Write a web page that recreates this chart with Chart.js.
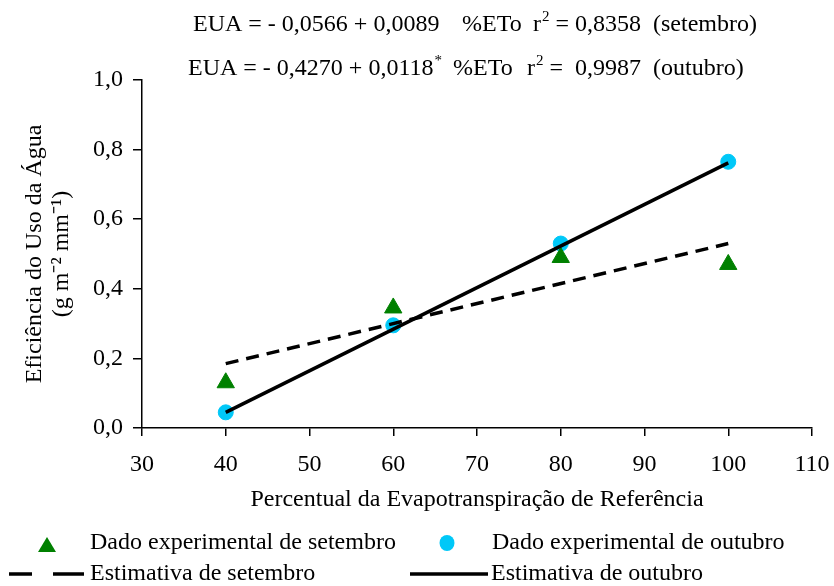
<!DOCTYPE html>
<html>
<head>
<meta charset="utf-8">
<script src="https://cdn.jsdelivr.net/npm/chart.js@4/dist/chart.umd.min.js"></script>
<style>
  body { margin: 0; background: #fff; }
  canvas { display: block; }
</style>
</head>
<body>
<canvas id="grafico" width="834" height="586"></canvas>
<script>
const percentualEto = [40, 60, 80, 100];
const dadoSetembro = [0.13, 0.345, 0.49, 0.47];
const dadoOutubro = [0.045, 0.295, 0.53, 0.765];
const estimativaX = [40, 100];
const estimativaSetembro = [0.185, 0.53];
const estimativaOutubro = [0.045, 0.762];

const fonte = 'Liberation Serif, Times New Roman, serif';
const tamanho = 24;

function pares(xs, ys) {
    return xs.map((x, i) => ({ x: x, y: ys[i] }));
}

// equações no topo; cada pedaço tem um x inicial (ou segue o anterior)
const cabecalho = {
    id: 'cabecalho',
    afterDraw(chart) {
        const ctx = chart.ctx;
        ctx.save();
        ctx.fillStyle = '#000';
        ctx.textBaseline = 'alphabetic';
        const linhas = [
            { y: 31, partes: [['EUA = - 0,0566 + 0,0089', 0, 193], ['%ETo', 0, 462], ['r', 0, 533], ['2', 1], [' = 0,8358  (setembro)', 0]] },
            { y: 75, partes: [['EUA = - 0,4270 + 0,0118', 0, 188], ['*', 1], ['%ETo', 0, 453], ['r', 0, 527], ['2', 1], [' =  0,9987  (outubro)', 0]] }
        ];
        linhas.forEach(l => {
            let x = 0;
            l.partes.forEach(p => {
                if (p[2] !== undefined) x = p[2];
                const sup = p[1];
                ctx.font = (sup ? 15 : tamanho) + 'px ' + fonte;
                ctx.fillText(p[0], x + (sup ? 1 : 0), sup ? l.y - 10 : l.y);
                x += ctx.measureText(p[0]).width + (sup ? 1 : 0);
            });
        });
        ctx.restore();
    }
};

// legenda em duas linhas
const legenda = {
    id: 'legenda',
    afterDraw(chart) {
        const ctx = chart.ctx;
        const ds = chart.data.datasets;
        ctx.save();
        ctx.font = tamanho + 'px ' + fonte;
        ctx.textBaseline = 'middle';

        // triângulo
        ctx.fillStyle = ds[0].backgroundColor;
        ctx.beginPath();
        ctx.moveTo(47, 537);
        ctx.lineTo(56, 552);
        ctx.lineTo(38, 552);
        ctx.closePath();
        ctx.fill();
        ctx.fillStyle = '#000';
        ctx.fillText(ds[0].label, 90, 543);

        // círculo
        ctx.fillStyle = ds[1].backgroundColor;
        ctx.beginPath();
        ctx.ellipse(447, 543, 7.5, 8, 0, 0, Math.PI * 2);
        ctx.fill();
        ctx.fillStyle = '#000';
        ctx.fillText(ds[1].label, 492, 543);

        // linhas
        ctx.strokeStyle = '#000';
        ctx.lineWidth = 3.5;
        ctx.beginPath();
        ctx.moveTo(9, 574);
        ctx.lineTo(32, 574);
        ctx.moveTo(53, 574);
        ctx.lineTo(84, 574);
        ctx.stroke();
        ctx.fillText(ds[2].label, 90, 574);

        ctx.beginPath();
        ctx.moveTo(410, 574);
        ctx.lineTo(488, 574);
        ctx.stroke();
        ctx.fillText(ds[3].label, 491, 574);
        ctx.restore();
    }
};

new Chart(document.getElementById('grafico'), {
    type: 'scatter',
    data: {
        datasets: [{
            label: 'Dado experimental de setembro',
            data: pares(percentualEto, dadoSetembro),
            backgroundColor: '#008000',
            borderColor: '#008000',
            pointStyle: 'triangle',
            pointRadius: 10,
            order: 2
        }, {
            label: 'Dado experimental de outubro',
            data: pares(percentualEto, dadoOutubro),
            backgroundColor: '#00C8F8',
            borderColor: '#00C8F8',
            pointStyle: 'circle',
            pointRadius: 7.5,
            order: 2
        }, {
            label: 'Estimativa de setembro',
            type: 'line',
            data: pares(estimativaX, estimativaSetembro),
            borderColor: '#000',
            borderWidth: 3.5,
            borderDash: [13, 8],
            pointRadius: 0,
            fill: false,
            order: 1
        }, {
            label: 'Estimativa de outubro',
            type: 'line',
            data: pares(estimativaX, estimativaOutubro),
            borderColor: '#000',
            borderWidth: 3.5,
            pointRadius: 0,
            fill: false,
            order: 0
        }]
    },
    options: {
        responsive: false,
        animation: false,
        layout: { padding: { top: 80, right: 22, bottom: 73, left: 0 } },
        plugins: {
            legend: { display: false },
            tooltip: { enabled: false }
        },
        scales: {
            x: {
                type: 'linear',
                min: 30,
                max: 110,
                border: { color: '#000', width: 1.5 },
                grid: { drawOnChartArea: false, color: '#000', lineWidth: 1.5, tickLength: 8 },
                ticks: { stepSize: 10, color: '#000', padding: 14, font: { family: fonte, size: tamanho } },
                title: {
                    display: true,
                    text: 'Percentual da Evapotranspiração de Referência',
                    color: '#000',
                    padding: { top: 0, bottom: 0 },
                    font: { family: fonte, size: tamanho, lineHeight: 1.1 }
                },
                afterFit(escala) {
                    escala.height = 85;
                    escala.paddingRight = 0;
                    escala.paddingLeft = 0;
                }
            },
            y: {
                min: 0,
                max: 1,
                border: { color: '#000', width: 1.5 },
                grid: { drawOnChartArea: false, color: '#000', lineWidth: 1.5, tickLength: 9 },
                ticks: {
                    stepSize: 0.2,
                    color: '#000',
                    padding: 10,
                    font: { family: fonte, size: tamanho },
                    callback: v => v.toFixed(1).replace('.', ',')
                },
                title: {
                    display: true,
                    text: ['Eficiência do Uso da Água', '(g m⁻² mm⁻¹)'],
                    color: '#000',
                    padding: { top: 22, bottom: 0 },
                    font: { family: fonte, size: tamanho, lineHeight: 1.1 }
                },
                afterFit(escala) { escala.width = 142; }
            }
        }
    },
    plugins: [cabecalho, legenda]
});
</script>
</body>
</html>
